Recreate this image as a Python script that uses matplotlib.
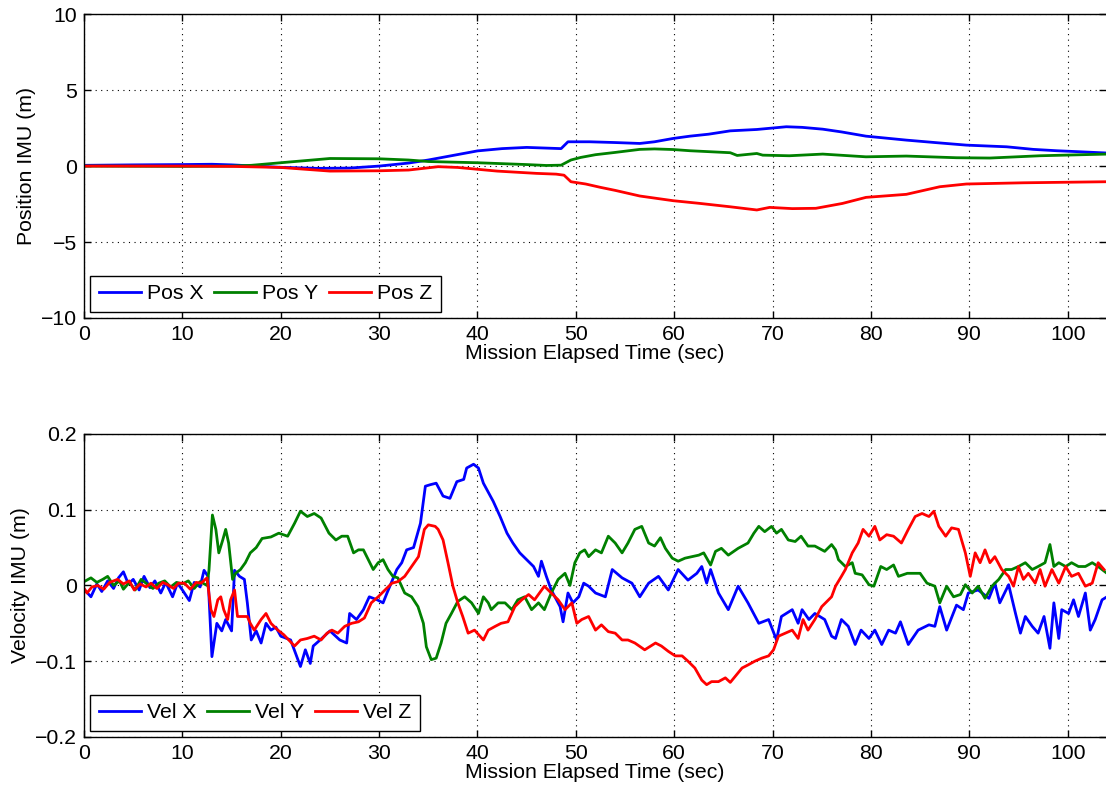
import numpy as np
import matplotlib
matplotlib.use('Agg')
import matplotlib.pyplot as plt

plt.rcParams.update({
    'font.family': ['Liberation Sans', 'DejaVu Sans'],
    'font.size': 15.3,
    'xtick.direction': 'in',
    'ytick.direction': 'in',
    'xtick.top': True,
    'ytick.right': True,
    'axes.linewidth': 1.0,
})

# ---- position (m) ----
t_px = [0, 5, 10, 13, 15, 18, 20, 23.7, 27, 30, 33, 35, 37.5, 40, 42.5, 45, 48.5, 49.2,
        51.4, 54, 56.5, 58, 59.9, 61.6, 63.5, 65.7, 68.4, 71.4, 73, 75.1, 77, 79.5,
        83.6, 86.5, 89.7, 93.8, 96.5, 98.9, 101, 104]
pos_x = [0.05, 0.08, 0.1, 0.12, 0.08, -0.02, -0.08, -0.15, -0.13, 0.0, 0.2, 0.4, 0.7,
         1.0, 1.15, 1.23, 1.15, 1.6, 1.6, 1.55, 1.49, 1.6, 1.82, 1.97, 2.1, 2.32, 2.41,
         2.59, 2.55, 2.43, 2.25, 1.97, 1.71, 1.55, 1.38, 1.27, 1.1, 1.01, 0.95, 0.86]

t_py = [0, 10, 15, 17, 20, 25, 30, 33, 35, 40, 45, 47, 48.5, 49.5, 50.5, 52, 54, 56.5,
        58, 59.9, 61.6, 63.5, 65.7, 66.4, 68.4, 69, 71.7, 75.1, 79.5, 83.6, 88.7, 92.1,
        97.2, 104]
pos_y = [0.0, -0.02, 0.0, 0.05, 0.22, 0.5, 0.48, 0.4, 0.3, 0.22, 0.1, 0.04, 0.06, 0.4,
         0.57, 0.75, 0.9, 1.1, 1.13, 1.09, 1.01, 0.95, 0.88, 0.7, 0.83, 0.72, 0.68, 0.79,
         0.61, 0.66, 0.55, 0.53, 0.68, 0.79]

t_pz = [0, 10, 15, 20, 25, 30, 33, 36, 38, 42, 46, 48, 48.8, 49.5, 51, 52.5, 54, 56.5,
        59.9, 62.5, 65.7, 68.4, 69.7, 72, 74.4, 77.1, 79.5, 83.6, 87, 89.7, 95.5, 104]
pos_z = [0.0, 0.0, -0.02, -0.09, -0.33, -0.31, -0.26, -0.04, -0.09, -0.33, -0.48, -0.53,
         -0.6, -1.03, -1.18, -1.4, -1.6, -1.97, -2.28, -2.45, -2.68, -2.89, -2.72, -2.8,
         -2.78, -2.46, -2.06, -1.86, -1.36, -1.18, -1.1, -1.03]

# ---- velocity ----
t_vx = [0, 0.7, 1.3, 1.8, 2.4, 3.0, 3.5, 4.0, 4.5, 5.0, 5.6, 6.1, 6.7, 7.2, 7.8, 8.3, 9.0,
        9.5, 10.0, 10.7, 11.2, 11.8, 12.2, 12.6, 13.0, 13.5, 14.0, 14.4, 15.0, 15.3, 15.8,
        16.3, 16.6, 17.0, 17.5, 18.0, 18.5, 19.0, 19.5, 20.0, 21.0, 22.0, 22.5, 23.0, 23.3,
        24.0, 25.0, 26.0, 26.7, 27.0, 27.7, 28.4, 29.0, 29.8, 30.4, 30.8, 31.8, 32.3, 32.8,
        33.5, 34.2, 34.7, 35.2, 35.8, 36.5, 37.2, 37.9, 38.6, 38.9, 39.6, 40.1, 40.6, 41.3,
        41.6, 42.3, 43.0, 43.6, 44.3, 45.0, 45.7, 46.2, 46.5, 47.0, 47.5, 48.4, 48.7, 49.2,
        49.7, 50.3, 50.8, 51.3, 52.0, 53.0, 53.7, 54.7, 55.7, 56.5, 57.4, 58.4, 59.4, 60.4,
        61.4, 62.3, 62.8, 63.3, 63.7, 64.5, 65.5, 66.5, 67.5, 68.6, 69.6, 70.4, 70.9, 72.0,
        72.6, 73.0, 73.7, 74.3, 75.3, 76.0, 76.4, 77.0, 77.7, 78.4, 79.0, 79.8, 80.4, 81.1,
        81.8, 82.5, 83.0, 83.8, 84.8, 85.9, 86.5, 87.0, 87.7, 88.7, 89.4, 89.9, 90.9, 92.0,
        92.6, 93.1, 94.0, 94.7, 95.2, 95.7, 96.4, 97.0, 97.6, 98.2, 98.6, 99.1, 99.4, 100.1,
        100.6, 101.1, 101.8, 102.3, 102.8, 103.5, 104.0]
vel_x = [-0.005, -0.015, 0.002, -0.008, 0.006, -0.004, 0.010, 0.018, 0.002, 0.008, -0.006,
         0.012, -0.003, 0.006, -0.010, 0.004, -0.015, 0.003, -0.006, -0.020, 0.004, -0.002,
         0.020, 0.012, -0.094, -0.050, -0.060, -0.045, -0.060, 0.020, 0.012, 0.008, -0.023,
         -0.072, -0.060, -0.076, -0.050, -0.059, -0.055, -0.067, -0.072, -0.107, -0.085,
         -0.103, -0.080, -0.072, -0.060, -0.072, -0.076, -0.037, -0.045, -0.032, -0.015,
         -0.019, -0.023, -0.010, 0.021, 0.030, 0.047, 0.050, 0.082, 0.131, 0.133, 0.135,
         0.118, 0.115, 0.137, 0.140, 0.155, 0.160, 0.155, 0.135, 0.118, 0.111, 0.091, 0.069,
         0.056, 0.043, 0.034, 0.025, 0.012, 0.032, 0.012, -0.006, -0.028, -0.048, -0.010,
         -0.023, -0.015, 0.003, -0.001, -0.010, -0.015, 0.021, 0.010, 0.003, -0.015, 0.003,
         0.012, -0.006, 0.021, 0.007, 0.016, 0.025, 0.003, 0.021, -0.010, -0.032, -0.001,
         -0.023, -0.050, -0.045, -0.072, -0.041, -0.032, -0.050, -0.032, -0.045, -0.037,
         -0.045, -0.067, -0.070, -0.045, -0.054, -0.078, -0.059, -0.070, -0.059, -0.078,
         -0.059, -0.063, -0.048, -0.078, -0.059, -0.052, -0.054, -0.028, -0.059, -0.026,
         -0.032, -0.010, -0.006, -0.017, 0.003, -0.023, 0.001, -0.037, -0.063, -0.041,
         -0.054, -0.063, -0.041, -0.083, -0.023, -0.070, -0.032, -0.037, -0.019, -0.041,
         -0.010, -0.059, -0.045, -0.019, -0.015]

t_vy = [0, 0.7, 1.3, 1.9, 2.4, 3.0, 3.6, 4.0, 4.6, 5.2, 5.8, 6.4, 7.0, 7.6, 8.2, 8.8, 9.4,
        10.0, 10.6, 11.2, 11.8, 12.5, 12.7, 13.05, 13.4, 13.7, 14.1, 14.4, 14.7, 15.1, 15.4,
        15.9, 16.4, 16.9, 17.5, 18.1, 19.0, 19.8, 20.7, 21.4, 22.0, 22.7, 23.4, 24.1, 24.9,
        25.6, 26.2, 26.8, 27.4, 27.9, 28.4, 28.9, 29.4, 29.9, 30.4, 30.9, 31.4, 31.9, 32.6,
        33.3, 33.95, 34.5, 34.8, 35.3, 35.8, 36.3, 36.8, 37.35, 38.0, 38.7, 39.4, 40.1, 40.6,
        41.1, 41.4, 42.1, 42.8, 43.5, 44.1, 44.8, 45.5, 46.2, 46.8, 47.5, 48.2, 48.9, 49.4,
        49.9, 50.4, 50.9, 51.3, 52.0, 52.6, 53.3, 54.0, 54.7, 55.3, 56.0, 56.7, 57.4, 58.0,
        58.6, 59.1, 59.8, 60.4, 61.1, 61.8, 62.5, 63.0, 63.7, 64.2, 64.8, 65.5, 66.5, 67.5,
        68.1, 68.6, 69.2, 69.9, 70.4, 70.9, 71.6, 72.3, 72.9, 73.6, 74.3, 75.3, 76.0, 76.4,
        76.7, 77.4, 78.1, 78.4, 79.1, 79.8, 80.3, 81.0, 81.6, 82.3, 82.8, 83.7, 84.3, 85.0,
        85.7, 86.5, 87.0, 87.7, 88.4, 89.1, 89.6, 90.3, 90.9, 91.6, 92.3, 93.0, 93.7, 94.3,
        95.0, 95.7, 96.4, 97.0, 97.7, 98.2, 98.6, 99.1, 99.8, 100.4, 101.1, 101.8, 102.5,
        103.1, 104.0]
vel_y = [0.005, 0.010, 0.004, 0.008, 0.012, 0.000, 0.006, -0.005, 0.004, -0.006, 0.008,
         0.002, -0.004, 0.003, 0.006, -0.002, 0.004, 0.002, 0.006, -0.004, 0.005, 0.000,
         0.020, 0.093, 0.074, 0.043, 0.060, 0.074, 0.056, 0.008, 0.016, 0.021, 0.030, 0.043,
         0.050, 0.062, 0.064, 0.069, 0.065, 0.082, 0.098, 0.091, 0.095, 0.089, 0.069, 0.060,
         0.065, 0.065, 0.043, 0.047, 0.047, 0.034, 0.021, 0.030, 0.034, 0.021, 0.012, 0.010,
         -0.010, -0.015, -0.028, -0.050, -0.081, -0.098, -0.096, -0.076, -0.050, -0.037,
         -0.021, -0.015, -0.023, -0.037, -0.015, -0.023, -0.032, -0.023, -0.023, -0.032,
         -0.019, -0.015, -0.032, -0.023, -0.032, -0.010, 0.008, 0.016, 0.000, 0.030, 0.043,
         0.047, 0.038, 0.047, 0.043, 0.065, 0.056, 0.043, 0.056, 0.074, 0.078, 0.056, 0.052,
         0.063, 0.049, 0.036, 0.032, 0.036, 0.038, 0.040, 0.043, 0.027, 0.045, 0.049, 0.040,
         0.049, 0.056, 0.069, 0.078, 0.071, 0.078, 0.069, 0.074, 0.060, 0.058, 0.065, 0.052,
         0.052, 0.045, 0.054, 0.047, 0.034, 0.025, 0.030, 0.016, 0.014, 0.001, -0.001, 0.025,
         0.021, 0.027, 0.012, 0.016, 0.016, 0.016, 0.003, -0.001, -0.023, -0.001, -0.015,
         -0.012, 0.001, -0.010, -0.001, -0.017, -0.001, 0.008, 0.021, 0.021, 0.025, 0.030,
         0.021, 0.025, 0.030, 0.054, 0.025, 0.030, 0.025, 0.030, 0.025, 0.025, 0.030, 0.025,
         0.016]

t_vz = [0, 0.3, 0.8, 1.4, 2.0, 2.6, 3.4, 4.0, 4.6, 5.1, 5.7, 6.3, 6.8, 7.4, 8.0, 8.5, 9.1,
        9.6, 10.2, 10.8, 11.4, 11.9, 12.5, 12.9, 13.2, 13.6, 13.9, 14.2, 14.6, 14.9, 15.3,
        15.6, 16.1, 16.6, 16.9, 17.3, 18.0, 18.5, 19.0, 19.7, 20.3, 21.4, 22.0, 22.7, 23.4,
        24.1, 24.7, 25.2, 25.8, 26.5, 27.2, 27.9, 28.5, 29.2, 29.9, 30.6, 31.3, 31.9, 32.6,
        33.3, 34.0, 34.6, 35.0, 35.7, 36.0, 36.5, 37.0, 37.5, 38.0, 38.5, 39.05, 39.7, 40.6,
        41.1, 41.8, 42.4, 43.1, 43.8, 44.5, 45.2, 45.8, 46.8, 47.5, 48.2, 48.9, 49.6, 50.1,
        50.6, 51.3, 52.0, 52.6, 53.3, 54.0, 54.7, 55.3, 56.0, 57.0, 58.1, 58.7, 59.4, 60.1,
        60.8, 61.4, 62.1, 62.8, 63.3, 63.8, 64.5, 65.2, 65.7, 66.2, 66.9, 67.5, 68.2, 68.9,
        69.6, 70.1, 70.6, 71.3, 72.0, 72.6, 73.1, 73.6, 74.3, 75.0, 75.7, 76.0, 76.4, 77.0,
        77.4, 78.1, 78.7, 79.2, 79.8, 80.4, 80.9, 81.6, 82.3, 83.1, 83.8, 84.5, 85.2, 85.9,
        86.4, 86.9, 87.6, 88.2, 88.9, 89.6, 90.1, 90.6, 91.1, 91.6, 92.1, 92.6, 93.3, 94.0,
        94.5, 95.0, 95.5, 96.0, 96.7, 97.2, 97.7, 98.4, 99.1, 99.8, 100.4, 101.1, 101.8,
        102.5, 103.1, 103.7]
vel_z = [-0.004, -0.010, -0.002, 0.000, -0.005, 0.004, 0.008, 0.002, 0.006, -0.006, 0.002,
         -0.002, 0.003, -0.004, 0.004, 0.001, -0.004, 0.003, 0.003, -0.005, 0.004, 0.003,
         0.010, -0.032, -0.041, -0.019, -0.015, -0.032, -0.045, -0.019, -0.006, -0.041,
         -0.041, -0.041, -0.050, -0.059, -0.045, -0.037, -0.050, -0.059, -0.065, -0.080,
         -0.072, -0.070, -0.067, -0.072, -0.063, -0.059, -0.063, -0.054, -0.050, -0.048,
         -0.043, -0.023, -0.015, -0.006, 0.003, 0.005, 0.012, 0.025, 0.038, 0.074, 0.080,
         0.078, 0.074, 0.060, 0.030, -0.001, -0.023, -0.041, -0.063, -0.059, -0.072, -0.059,
         -0.054, -0.050, -0.048, -0.028, -0.019, -0.012, -0.019, -0.001, -0.010, -0.019,
         -0.032, -0.023, -0.050, -0.045, -0.041, -0.059, -0.052, -0.061, -0.063, -0.072,
         -0.072, -0.076, -0.085, -0.076, -0.080, -0.087, -0.093, -0.093, -0.100, -0.109,
         -0.125, -0.131, -0.127, -0.127, -0.122, -0.128, -0.120, -0.109, -0.105, -0.100,
         -0.096, -0.093, -0.085, -0.067, -0.063, -0.059, -0.070, -0.045, -0.059, -0.045,
         -0.028, -0.019, -0.015, -0.001, 0.012, 0.021, 0.043, 0.056, 0.074, 0.065, 0.078,
         0.060, 0.067, 0.065, 0.056, 0.074, 0.091, 0.095, 0.091, 0.098, 0.078, 0.065, 0.076,
         0.074, 0.043, 0.012, 0.043, 0.030, 0.047, 0.030, 0.038, 0.021, 0.012, -0.001, 0.025,
         0.008, 0.016, 0.003, 0.021, -0.001, 0.021, 0.003, 0.025, 0.012, 0.016, -0.001,
         0.003, 0.030, 0.021]

BLUE, GREEN, RED = '#0000ff', '#008000', '#ff0000'
XMAX = 103.9

fig = plt.figure(figsize=(11.06, 7.89), dpi=100)
ax1 = fig.add_axes([0.076, 0.597, 0.924, 0.385])
ax2 = fig.add_axes([0.076, 0.066, 0.924, 0.384])


def style(ax, yticks, ylim, ylabel):
    ax.set_xlim(0, XMAX)
    ax.set_ylim(*ylim)
    ax.set_xticks(np.arange(0, 101, 10))
    ax.set_yticks(yticks)
    ax.grid(True, linestyle=(0, (1, 4)), color='black', linewidth=0.8)
    ax.spines['right'].set_visible(False)
    ax.tick_params(length=5, width=1, pad=5)
    ax.set_xlabel('Mission Elapsed Time (sec)', labelpad=0)
    ax.set_ylabel(ylabel, labelpad=4)
    leg = ax.legend(loc='lower left', ncol=3, fancybox=False, framealpha=1,
                    edgecolor='black', handlelength=2.0, handletextpad=0.28,
                    columnspacing=0.47, borderpad=0.4, borderaxespad=0.3)
    leg.get_frame().set_linewidth(1.0)


ax1.plot(t_px, pos_x, color=BLUE, lw=2, label='Pos X')
ax1.plot(t_py, pos_y, color=GREEN, lw=2, label='Pos Y')
ax1.plot(t_pz, pos_z, color=RED, lw=2, label='Pos Z')
style(ax1, [-10, -5, 0, 5, 10], (-10, 10), 'Position IMU (m)')

ax2.plot(t_vx, vel_x, color=BLUE, lw=2, label='Vel X')
ax2.plot(t_vy, vel_y, color=GREEN, lw=2, label='Vel Y')
ax2.plot(t_vz, vel_z, color=RED, lw=2, label='Vel Z')
style(ax2, [-0.2, -0.1, 0, 0.1, 0.2], (-0.2, 0.2), 'Velocity IMU (m)')
ax2.set_yticklabels(['\u22120.2', '\u22120.1', '0', '0.1', '0.2'])

fig.savefig('out.png', dpi=100)
